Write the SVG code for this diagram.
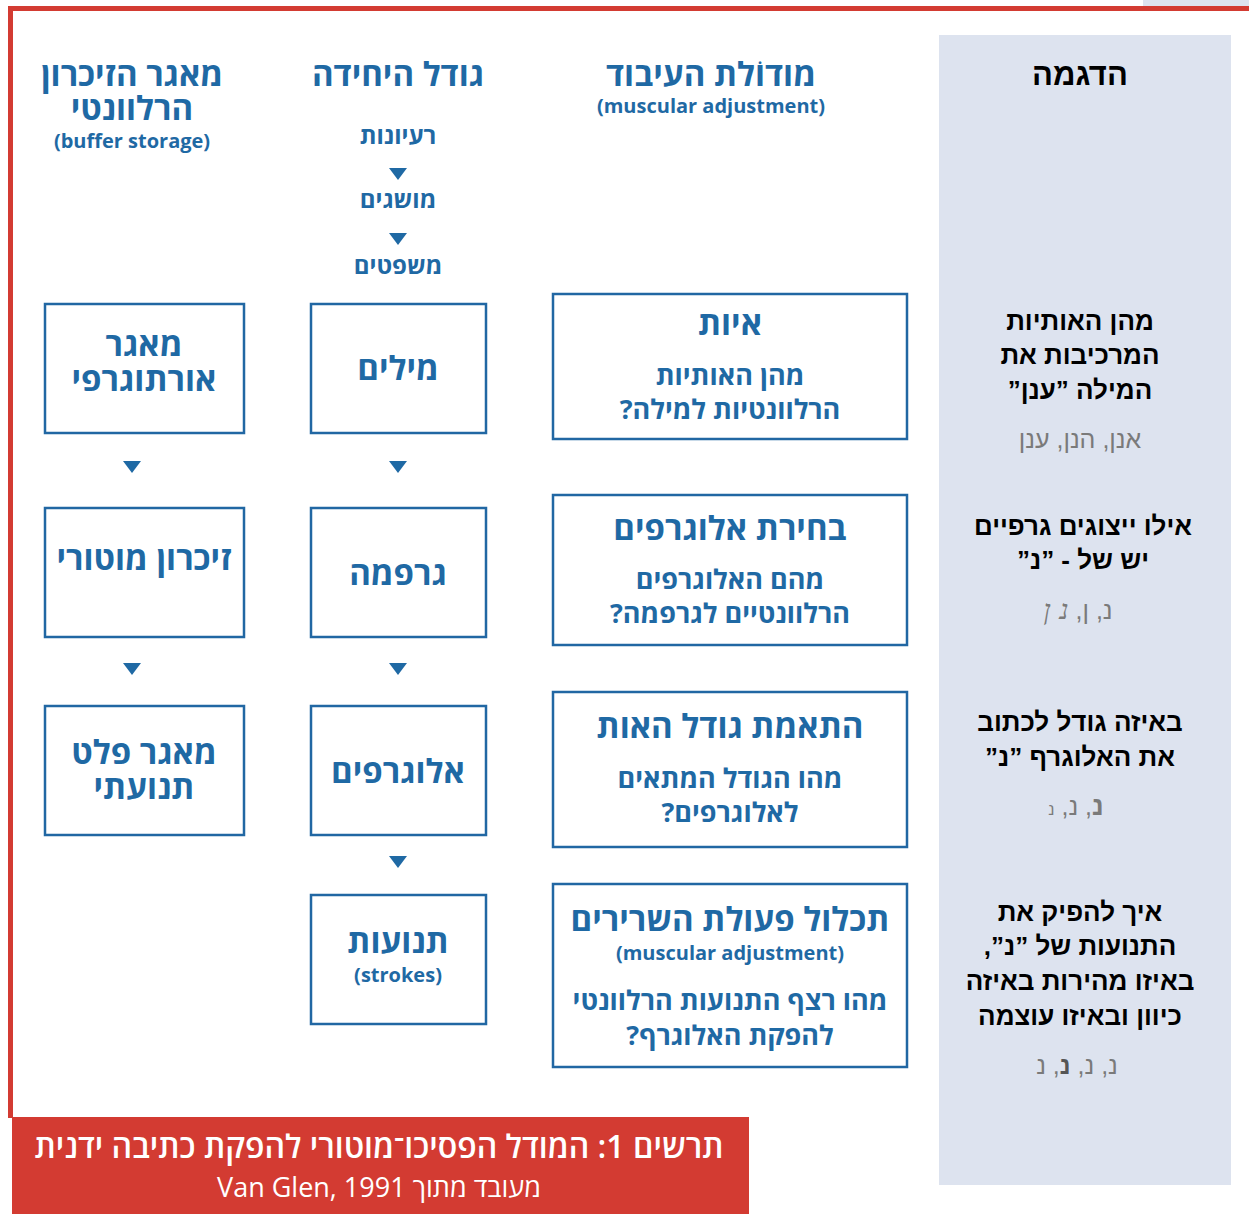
<svg xmlns="http://www.w3.org/2000/svg" width="1249" height="1214" viewBox="0 0 1249 1214">
<style>
text{font-family:"Open Sans","Liberation Sans","DejaVu Sans",sans-serif;text-anchor:middle;direction:rtl}
.b{fill:#1F69A4;font-weight:bold}
.h1{font-size:33px}
.h2{font-size:27px}
.hs{font-size:24px}
.sm{font-size:20px}
.k{fill:#000;font-weight:bold;font-size:26px;font-family:"Liberation Sans","Open Sans",sans-serif}
.g{fill:#7A7A7A;font-size:25px;font-family:"Liberation Sans","Open Sans",sans-serif}
.box{fill:#fff;stroke:#2167A3;stroke-width:2.5}
.tri{fill:#1F69A4}
.cap{fill:#fff}
</style>
<rect x="0" y="0" width="1249" height="1214" fill="#fff"/>
<rect x="1143" y="0" width="106" height="6" fill="#DDE3EF"/>
<rect x="8" y="6" width="1241" height="5" fill="#D33B32"/>
<rect x="8" y="6" width="5" height="1112" fill="#D33B32"/>
<rect x="939" y="35" width="292" height="1150" fill="#DDE3EF"/>

<g id="headers">
<text class="b h1" x="132" y="86">מאגר הזיכרון<tspan x="132" dy="34">הרלוונטי</tspan><tspan class="sm" x="132" dy="28">(buffer storage)</tspan></text>
<text class="b h1" x="398" y="86">גודל היחידה</text>
<text class="b hs" x="398" y="144">רעיונות</text>
<text class="b hs" x="398" y="208">מושגים</text>
<text class="b hs" x="398" y="274">משפטים</text>
<text class="b h1" x="711" y="86">מודוֹלת העיבוד<tspan class="sm" x="711" dy="27">(muscular adjustment)</tspan></text>
<text class="k" x="1080" y="85" style="font-size:31px">הדגמה</text>
</g>

<g id="connectors">
<polygon class="tri" points="389,168 407,168 398,180"/>
<polygon class="tri" points="389,233 407,233 398,245"/>
<polygon class="tri" points="123,461 141,461 132,473"/>
<polygon class="tri" points="123,663 141,663 132,675"/>
<polygon class="tri" points="389,461 407,461 398,473"/>
<polygon class="tri" points="389,663 407,663 398,675"/>
<polygon class="tri" points="389,856 407,856 398,868"/>
</g>

<g id="orthographic">
<rect class="box" x="45" y="304" width="199" height="129"/>
<text class="b h1" x="144" y="356">מאגר<tspan x="144" dy="35">אורתוגרפי</tspan></text>
</g>
<g id="motor-memory">
<rect class="box" x="45" y="508" width="199" height="129"/>
<text class="b h1" x="144" y="570">זיכרון מוטורי</text>
</g>
<g id="motor-output">
<rect class="box" x="45" y="706" width="199" height="129"/>
<text class="b h1" x="144" y="764">מאגר פלט<tspan x="144" dy="35">תנועתי</tspan></text>
</g>

<g id="words">
<rect class="box" x="311" y="304" width="175" height="129"/>
<text class="b h1" x="398" y="380">מילים</text>
</g>
<g id="grapheme">
<rect class="box" x="311" y="508" width="175" height="129"/>
<text class="b h1" x="398" y="585">גרפמה</text>
</g>
<g id="allographs">
<rect class="box" x="311" y="706" width="175" height="129"/>
<text class="b h1" x="398" y="783">אלוגרפים</text>
</g>
<g id="strokes">
<rect class="box" x="311" y="895" width="175" height="129"/>
<text class="b h1" x="398" y="953">תנועות<tspan class="sm" x="398" dy="29">(strokes)</tspan></text>
</g>

<g id="spelling">
<rect class="box" x="553" y="294" width="354" height="145"/>
<text class="b h1" x="730" y="335">איות</text>
<text class="b h2" x="730" y="385">מהן האותיות<tspan x="730" dy="34">הרלוונטיות למילה?</tspan></text>
</g>
<g id="allograph-choice">
<rect class="box" x="553" y="495" width="354" height="150"/>
<text class="b h1" x="730" y="540">בחירת אלוגרפים</text>
<text class="b h2" x="730" y="589">מהם האלוגרפים<tspan x="730" dy="34">הרלוונטיים לגרפמה?</tspan></text>
</g>
<g id="size-match">
<rect class="box" x="553" y="692" width="354" height="155"/>
<text class="b h1" x="730" y="738">התאמת גודל האות</text>
<text class="b h2" x="730" y="788">מהו הגודל המתאים<tspan x="730" dy="34">לאלוגרפים?</tspan></text>
</g>
<g id="muscular">
<rect class="box" x="553" y="884" width="354" height="183"/>
<text class="b h1" x="730" y="931">תכלול פעולת השרירים<tspan class="sm" x="730" dy="29">(muscular adjustment)</tspan></text>
<text class="b h2" x="730" y="1010">מהו רצף התנועות הרלוונטי<tspan x="730" dy="35">להפקת האלוגרף?</tspan></text>
</g>

<g id="demo-1">
<text class="k" x="1080" y="330">מהן האותיות<tspan x="1080" dy="34">המרכיבות את</tspan><tspan x="1080" dy="35">המילה ”ענן”</tspan></text>
<text class="g" x="1080" y="448">אנן, הנן, ענן</text>
</g>
<g id="demo-2">
<text class="k" x="1083" y="535">אילו ייצוגים גרפיים<tspan x="1083" dy="34">יש של - ”נ”</tspan></text>
<text class="g" x="1078" y="619">נ, ן, <tspan font-style="italic" font-family="DejaVu Serif" font-size="28">נ ן</tspan></text>
</g>
<g id="demo-3">
<text class="k" x="1080" y="731">באיזה גודל לכתוב<tspan x="1080" dy="35">את האלוגרף ”נ”</tspan></text>
<text class="g" x="1076" y="815"><tspan font-size="27" font-weight="bold">נ</tspan>, נ, <tspan font-size="16">נ</tspan></text>
</g>
<g id="demo-4">
<text class="k" x="1080" y="921">איך להפיק את<tspan x="1080" dy="34">התנועות של ”נ”,</tspan><tspan x="1080" dy="35">באיזו מהירות באיזה</tspan><tspan x="1080" dy="35">כיוון ובאיזו עוצמה</tspan></text>
<text class="g" x="1077" y="1074">נ, נ, <tspan font-weight="bold" fill="#555">נ</tspan>, נ</text>
</g>

<g id="caption">
<rect x="12" y="1117" width="737" height="97" fill="#D33B32"/>
<text class="cap" x="379" y="1158" style="font-size:32px;font-weight:600">תרשים 1:  המודל הפסיכו־מוטורי להפקת כתיבה ידנית</text>
<text class="cap" x="379" y="1197" style="font-size:27px">מעובד מתוך Van Glen, 1991</text>
</g>
</svg>
